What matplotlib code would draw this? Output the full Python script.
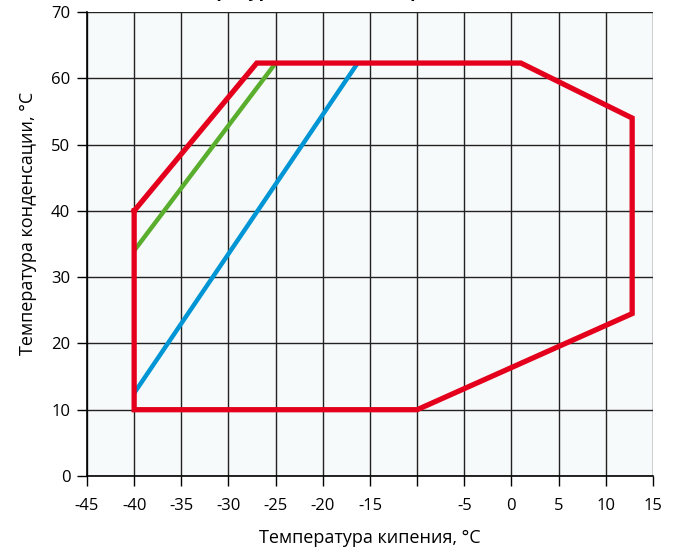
import matplotlib
matplotlib.use('Agg')
import matplotlib.pyplot as plt

plt.rcParams['font.family'] = ['Open Sans', 'DejaVu Sans']

# envelope (red) and limit lines
red_x = [-40, -27, 1, 12.8, 12.8, -10, -40, -40]
red_y = [40, 62.3, 62.3, 54, 24.5, 10, 10, 40]
green_x = [-40, -25]
green_y = [34, 62.3]
blue_x = [-40, -16.3]
blue_y = [12.5, 62.3]

xticks = list(range(-45, 20, 5))
xlabels = ['-45', '-40', '-35', '-30', '-25', '-20', '-15', '', '-5', '0', '5', '10', '15']
yticks = list(range(0, 80, 10))

fig = plt.figure(figsize=(6.78, 5.54), dpi=100)
ax = fig.add_axes([0.1283, 0.1408, 0.8347, 0.8375])
ax.set_facecolor('#f7fafa')

ax.plot(green_x, green_y, color='#5aae2e', lw=3.2, solid_capstyle='butt', zorder=3)
ax.plot(blue_x, blue_y, color='#0095d4', lw=3.2, solid_capstyle='butt', zorder=3)
ax.plot(red_x, red_y, color='#e4001c', lw=3.8, solid_joinstyle='miter', zorder=4)

ax.set_xlim(-45, 15)
ax.set_ylim(0, 70)
ax.set_xticks(xticks)
ax.set_xticklabels(xlabels)
ax.set_yticks(yticks)
ax.grid(True, color='#222222', lw=1.0)
ax.set_axisbelow(True)
for s in ax.spines.values():
    s.set_visible(False)
ax.spines['left'].set_visible(True)
ax.spines['bottom'].set_visible(True)
ax.spines['left'].set_linewidth(1.2)
ax.spines['bottom'].set_linewidth(1.2)
ax.tick_params(axis='x', length=7, width=1, pad=9, labelsize=12)
ax.tick_params(axis='y', length=7, width=1, pad=5, labelsize=12)

ax.set_xlabel('Температура кипения, °C', fontsize=13, labelpad=11)
ax.set_ylabel('Температура конденсации, °C', fontsize=13)
ax.yaxis.set_label_coords(-0.088, 0.545)

fig.text(0.47, 1.006, 'Температурный диапазон работы', ha='center', va='baseline',
         fontsize=13, fontweight='bold')

fig.savefig('out.png', dpi=100)
